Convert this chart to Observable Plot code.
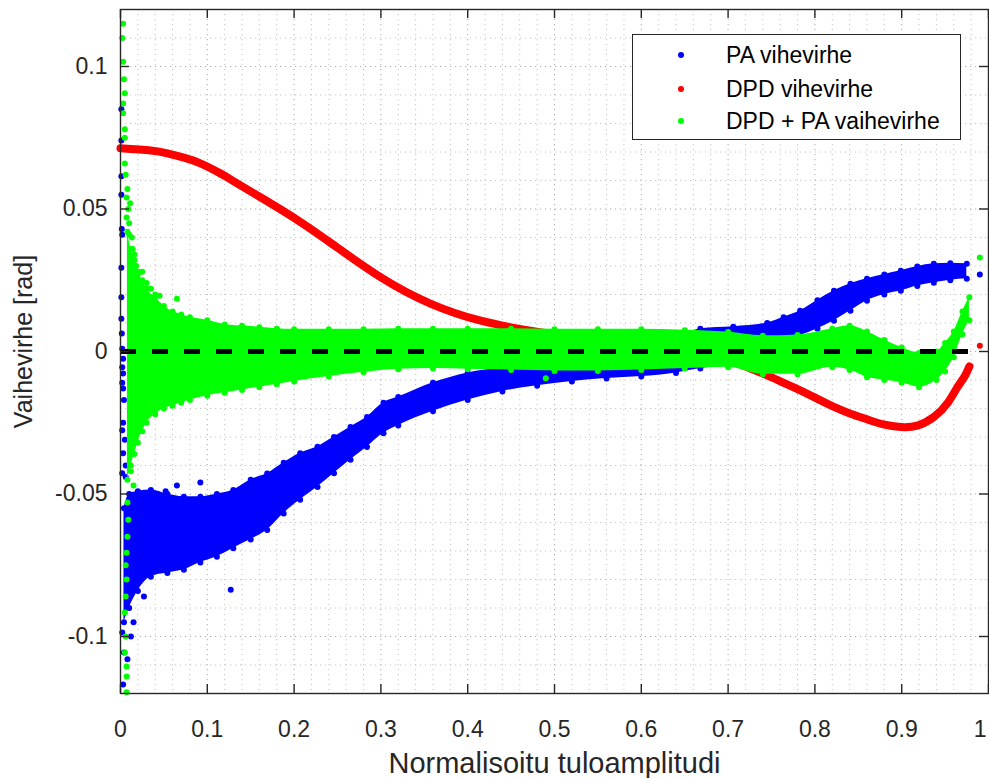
<!DOCTYPE html>
<html><head><meta charset="utf-8">
<script src="https://cdn.jsdelivr.net/npm/d3@7"></script>
<script src="https://cdn.jsdelivr.net/npm/@observablehq/plot@0.6"></script>
<style>
body{margin:0;background:#fff;font-family:"Liberation Sans",Arial,sans-serif}
#wrap{position:relative;width:989px;height:778px}
#legend{position:absolute;left:632px;top:34px;width:327px;height:104px;border:1px solid #262626;background:#fff;box-sizing:content-box}
.item{position:absolute;left:0;height:30px;width:100%;font-size:23px;color:#000;line-height:30px}
.item .mk{position:absolute;left:45px;top:12px;width:6px;height:6px;border-radius:50%}
.item .tx{position:absolute;left:93px;top:0;white-space:nowrap}
</style></head><body><div id="wrap"></div>
<script>
// PA phase error cloud (band lower / upper edge sampled along x)
const paX  = [0.004,0.01,0.02,0.035,0.054,0.073,0.092,0.111,0.13,0.15,0.169,0.188,0.207,0.227,0.246,0.265,0.284,0.303,0.32,0.36,0.40,0.44,0.48,0.52,0.56,0.60,0.64,0.668,0.706,0.745,0.764,0.783,0.803,0.822,0.841,0.86,0.88,0.899,0.918,0.937,0.956,0.975];
const paLo = [-0.095,-0.09,-0.084,-0.079,-0.0777,-0.0766,-0.074,-0.072,-0.069,-0.066,-0.0626,-0.0568,-0.052,-0.0475,-0.0427,-0.038,-0.0335,-0.0287,-0.026,-0.021,-0.017,-0.014,-0.012,-0.0105,-0.0095,-0.0088,-0.0075,-0.006,-0.004,0.002,0.004,0.0056,0.008,0.0108,0.0143,0.0178,0.020,0.0213,0.023,0.0241,0.025,0.0255];
const paHi = [-0.055,-0.05,-0.049,-0.0486,-0.050,-0.051,-0.051,-0.050,-0.0486,-0.045,-0.0428,-0.039,-0.0357,-0.0334,-0.030,-0.0265,-0.023,-0.018,-0.016,-0.011,-0.0075,-0.0058,-0.0048,-0.003,-0.0015,0.0005,0.004,0.008,0.0087,0.010,0.012,0.0143,0.018,0.0213,0.0238,0.0255,0.027,0.0283,0.0298,0.0308,0.031,0.0308];
// PA isolated points
const paOutX = [0.001,0.001,0.001,0.001,0.0015,0.002,0.001,0.001,0.001,0.0015,0.002,0.003,0.002,0.003,0.002,0.003,0.004,0.003,0.002,0.005,0.003,0.006,0.002,0.006,0.002,0.004,0.003,0.008,0.012,0.015,0.127,0.052,0.065,0.092,0.027,0.99];
const paOutY = [0.085,0.074,0.0615,0.055,0.043,0.041,0.0294,0.019,0.0115,0.0063,0.001,-0.0025,-0.0055,-0.0077,-0.011,-0.013,-0.017,-0.025,-0.0276,-0.031,-0.0357,-0.040,-0.0427,-0.044,-0.0986,-0.1056,-0.1168,-0.108,-0.1,-0.095,-0.0836,-0.049,-0.047,-0.046,-0.086,0.027];
// DPD phase error curve
const dpdX = [0,0.035,0.054,0.073,0.092,0.115,0.13,0.169,0.207,0.245,0.30,0.357,0.415,0.472,0.51,0.55,0.60,0.65,0.70,0.726,0.745,0.764,0.783,0.803,0.822,0.841,0.86,0.879,0.899,0.918,0.937,0.953,0.964,0.972,0.978];
const dpdY = [0.0713,0.0705,0.0695,0.068,0.066,0.0625,0.0598,0.0527,0.0455,0.0375,0.026,0.0168,0.0108,0.0073,0.0056,0.0042,0.0025,0.0005,-0.003,-0.006,-0.0084,-0.011,-0.0136,-0.0166,-0.0194,-0.0218,-0.0238,-0.0256,-0.0265,-0.026,-0.023,-0.018,-0.0126,-0.009,-0.0052];
const dpdOutX = [0.99];
const dpdOutY = [0.002];
// DPD + PA phase error cloud
const gX  = [0.008,0.012,0.016,0.02,0.025,0.03,0.04,0.05,0.06,0.07,0.08,0.10,0.12,0.14,0.16,0.18,0.20,0.24,0.28,0.32,0.36,0.40,0.45,0.50,0.55,0.60,0.65,0.70,0.74,0.78,0.82,0.84,0.86,0.88,0.90,0.92,0.94,0.95,0.96,0.97,0.978];
const gLo = [-0.045,-0.040,-0.036,-0.032,-0.028,-0.025,-0.022,-0.020,-0.019,-0.018,-0.017,-0.0155,-0.0145,-0.0135,-0.0125,-0.0115,-0.0105,-0.0088,-0.0073,-0.0062,-0.006,-0.0062,-0.0065,-0.0068,-0.0068,-0.0065,-0.006,-0.0055,-0.008,-0.008,-0.0055,-0.0065,-0.009,-0.010,-0.011,-0.0125,-0.010,-0.007,-0.002,0.006,0.011];
const gHi = [0.042,0.036,0.032,0.028,0.025,0.022,0.019,0.016,0.014,0.013,0.012,0.011,0.0095,0.009,0.0085,0.008,0.0078,0.0078,0.0078,0.008,0.008,0.008,0.008,0.0078,0.0078,0.0078,0.0075,0.0068,0.0055,0.0058,0.008,0.009,0.007,0.004,0.0014,-0.0005,0.000,0.003,0.007,0.014,0.019];
const gOutX = [0.003,0.002,0.003,0.004,0.005,0.003,0.003,0.005,0.005,0.005,0.006,0.008,0.007,0.009,0.007,0.010,0.014,0.016,0.012,0.02,0.023,0.04,0.065,0.045,0.008,0.009,0.008,0.007,0.006,0.007,0.006,0.005,0.006,0.005,0.007,0.007,0.007,0.012,0.015,0.49,0.99,0.010,0.013,0.011,0.018,0.025,0.030,0.035];
const gOutY = [0.115,0.11,0.1017,0.0955,0.0906,0.087,0.0836,0.078,0.075,0.066,0.062,0.057,0.054,0.050,0.047,0.041,0.036,0.034,0.031,0.027,0.024,0.020,0.0185,0.0196,-0.053,-0.059,-0.065,-0.0706,-0.075,-0.080,-0.086,-0.0916,-0.100,-0.1056,-0.1105,-0.114,-0.1196,-0.042,-0.047,-0.0094,0.033,0.045,0.040,0.052,0.030,0.028,0.024,0.022];
// axes
const xMajor = [0,0.1,0.2,0.3,0.4,0.5,0.6,0.7,0.8,0.9,1];
const xMinor = [0.02,0.04,0.06,0.08,0.12,0.14,0.16,0.18,0.22,0.24,0.26,0.28,0.32,0.34,0.36,0.38,0.42,0.44,0.46,0.48,0.52,0.54,0.56,0.58,0.62,0.64,0.66,0.68,0.72,0.74,0.76,0.78,0.82,0.84,0.86,0.88,0.92,0.94,0.96,0.98];
const yMajor = [-0.1,-0.05,0,0.05,0.1];
const yMinor = [-0.11,-0.09,-0.08,-0.07,-0.06,-0.04,-0.03,-0.02,-0.01,0.01,0.02,0.03,0.04,0.06,0.07,0.08,0.09,0.11];
const xLabels = ["0","0.1","0.2","0.3","0.4","0.5","0.6","0.7","0.8","0.9","1"];
const yLabels = ["-0.1","-0.05","0","0.05","0.1"];
const seriesNames = ["PA vihevirhe","DPD vihevirhe","DPD + PA vaihevirhe"];
const seriesColors = ["#0000ff","#ff0000","#00ff00"];
const xTitle = "Normalisoitu tuloamplitudi";
const yTitle = "Vaihevirhe [rad]";

const pa = paX.map((x,i)=>({x, lo: paLo[i], hi: paHi[i]}));
const paOut = paOutX.map((x,i)=>({x, y: paOutY[i]}));
const dpd = dpdX.map((x,i)=>({x, y: dpdY[i]}));
const dpdOut = dpdOutX.map((x,i)=>({x, y: dpdOutY[i]}));
const g = gX.map((x,i)=>({x, lo: gLo[i], hi: gHi[i]}));
const gOut = gOutX.map((x,i)=>({x, y: gOutY[i]}));
const xTicks = xMajor.map((x,i)=>({x, label: xLabels[i]}));

const W=989,H=778,mL=120,mR=1,mT=9,mB=85;
const fw=W-mL-mR, fh=H-mT-mB;
const ax="#262626";

const chart = Plot.plot({
  width: W, height: H,
  marginLeft: mL, marginRight: mR, marginTop: mT, marginBottom: mB,
  x: {domain: [0,1], axis: null},
  y: {domain: [-0.12,0.12], axis: null},
  style: {fontFamily: '"Liberation Sans", Arial, sans-serif', background: "#fff", color: ax},
  marks: [
    Plot.ruleX(xMinor, {stroke: "#c4c4c4", strokeDasharray: "1.2,3.8"}),
    Plot.ruleY(yMinor, {stroke: "#c4c4c4", strokeDasharray: "1.2,3.8"}),
    Plot.ruleX(xMajor, {stroke: "#aaaaaa", strokeDasharray: "1.2,3.8"}),
    Plot.ruleY(yMajor, {stroke: "#aaaaaa", strokeDasharray: "1.2,3.8"}),
    // PA
    Plot.areaY(pa, {x: "x", y1: "lo", y2: "hi", fill: seriesColors[0], curve: "monotone-x"}),
    Plot.dot(pa, {x: "x", y: "lo", r: 3, fill: seriesColors[0]}),
    Plot.dot(pa, {x: "x", y: "hi", r: 3, fill: seriesColors[0]}),
    Plot.dot(paOut, {x: "x", y: "y", r: 3, fill: seriesColors[0]}),
    // DPD
    Plot.line(dpd, {x: "x", y: "y", stroke: seriesColors[1], strokeWidth: 8, curve: "natural", strokeLinecap: "round"}),
    Plot.dot(dpdOut, {x: "x", y: "y", r: 3, fill: seriesColors[1]}),
    // DPD + PA
    Plot.areaY(g, {x: "x", y1: "lo", y2: "hi", fill: seriesColors[2], curve: "monotone-x"}),
    Plot.dot(g, {x: "x", y: "lo", r: 3, fill: seriesColors[2]}),
    Plot.dot(g, {x: "x", y: "hi", r: 3, fill: seriesColors[2]}),
    Plot.dot(gOut, {x: "x", y: "y", r: 3, fill: seriesColors[2]}),
    // zero reference
    Plot.ruleY([0], {x1: 0, x2: 0.978, stroke: "#000", strokeWidth: 5, strokeDasharray: "16,16"}),
    Plot.frame({stroke: ax, strokeWidth: 1.4}),
    // inward ticks
    Plot.tickX(xMajor, {x: d=>d, insetTop: fh-9, stroke: ax, strokeWidth: 1.4}),
    Plot.tickX(xMajor, {x: d=>d, insetBottom: fh-9, stroke: ax, strokeWidth: 1.4}),
    Plot.tickY(yMajor, {y: d=>d, insetRight: fw-9, stroke: ax, strokeWidth: 1.4}),
    Plot.tickY(yMajor, {y: d=>d, insetLeft: fw-9, stroke: ax, strokeWidth: 1.4}),
    // tick labels
    Plot.text(xTicks.slice(0,10), {x: "x", text: "label", frameAnchor: "bottom", lineAnchor: "top", textAnchor: "middle", dy: 27, fontSize: 23, fill: ax}),
    Plot.text(xTicks.slice(10), {x: "x", text: "label", frameAnchor: "bottom", lineAnchor: "top", textAnchor: "end", dx: -2, dy: 27, fontSize: 23, fill: ax}),
    Plot.axisY(yMajor, {anchor: "left", tickSize: 0, tickPadding: 13, fontSize: 23, label: null, tickFormat: (d,i)=>yLabels[i]}),
    Plot.text([xTitle], {frameAnchor: "bottom", dy: 70, lineAnchor: "middle", textAnchor: "middle", fontSize: 29, fill: ax}),
    Plot.text([yTitle], {frameAnchor: "left", dx: -97, dy: -10, rotate: -90, textAnchor: "middle", lineAnchor: "middle", fontSize: 25, fill: ax})
  ]
});
const wrap = document.getElementById("wrap");
wrap.appendChild(chart);
const leg = document.createElement("div");
leg.id = "legend";
const tops = [5, 39, 71];
seriesNames.forEach((n,i)=>{
  const it = document.createElement("div");
  it.className = "item";
  it.style.top = tops[i] + "px";
  const mk = document.createElement("span"); mk.className = "mk"; mk.style.background = seriesColors[i];
  const tx = document.createElement("span"); tx.className = "tx"; tx.textContent = n;
  it.appendChild(mk); it.appendChild(tx); leg.appendChild(it);
});
wrap.appendChild(leg);
</script>
</body></html>
